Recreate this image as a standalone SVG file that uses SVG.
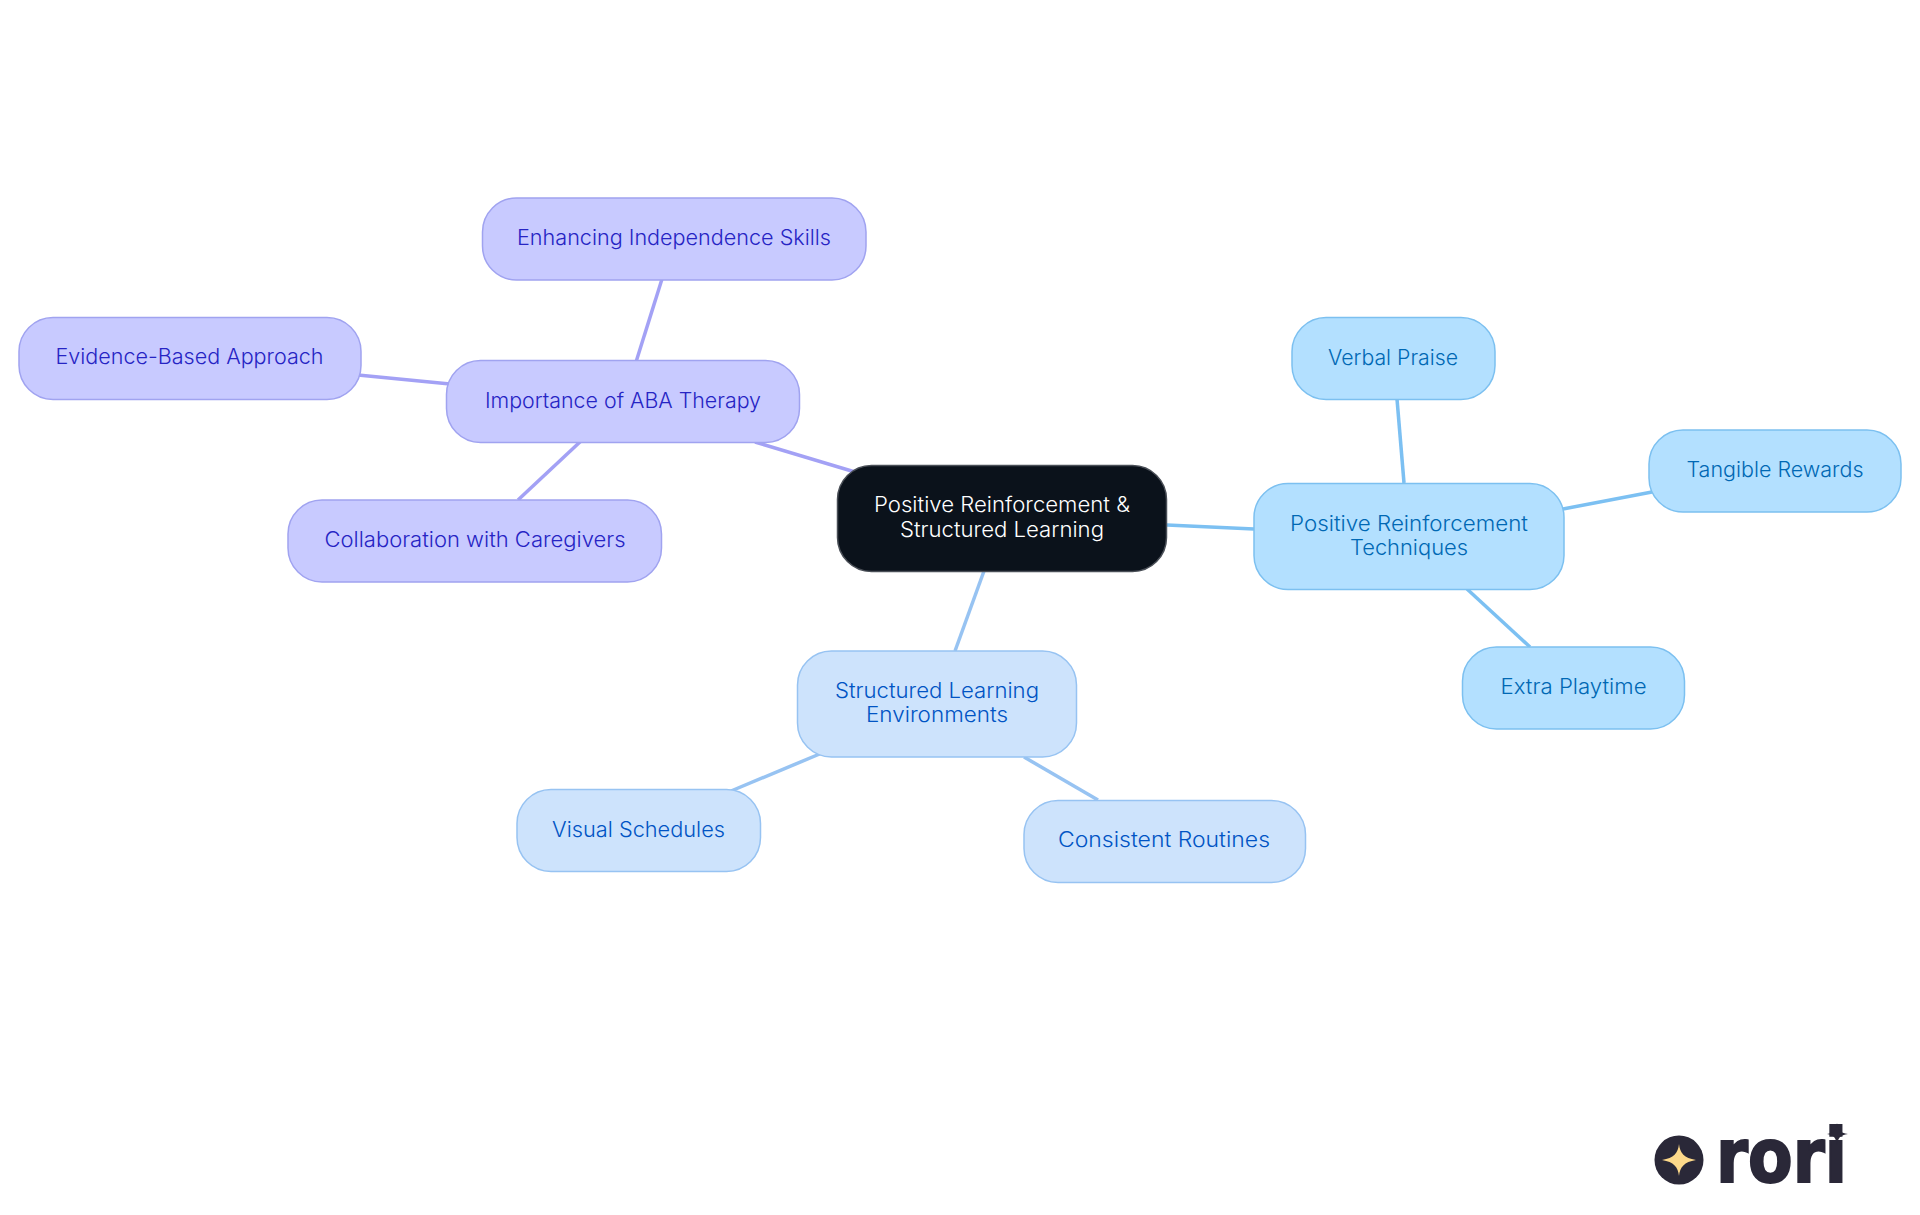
<svg xmlns="http://www.w3.org/2000/svg" width="1920" height="1215" viewBox="0 0 1920 1215">
<style>
text{font-family:"Inter","Noto Sans","Liberation Sans",sans-serif;font-size:21px;font-weight:300;text-anchor:middle}
.c{fill:#0b121b;stroke:#4a4f57;stroke-width:1.5}
.c~text{fill:#fff}
.p rect{fill:#c8caff;stroke:#a0a3f0;stroke-width:1.5}
.p text{fill:#2624c4}
.l rect{fill:#b3e0ff;stroke:#7cc0f0;stroke-width:1.5}
.l text{fill:#0068b4}
.m rect{fill:#cde3fc;stroke:#97c3f2;stroke-width:1.5}
.m text{fill:#0054c4}
#connectors line{stroke-width:3.5;fill:none}
.lp{stroke:#a3a1f5}.ll{stroke:#7cc0f2}.lm{stroke:#97c3f2}
#logo .d{fill:#2a2838}
#logo text{font-family:"DejaVu Sans",sans-serif;font-weight:700;font-size:74px;fill:#2a2838;stroke:#2a2838;stroke-width:2;text-anchor:start}
</style>
<rect width="1920" height="1215" fill="#fff"/>
<g id="connectors">
<line class="lp" x1="755" y1="442" x2="855" y2="472"/>
<line class="lp" x1="636" y1="362" x2="662" y2="279"/>
<line class="lp" x1="358" y1="375" x2="450" y2="384"/>
<line class="lp" x1="581" y1="441" x2="518" y2="500"/>
<line class="lm" x1="984" y1="571" x2="955" y2="651"/>
<line class="lm" x1="822" y1="753" x2="731" y2="791"/>
<line class="lm" x1="1024" y1="757" x2="1098" y2="800"/>
<line class="ll" x1="1167" y1="525" x2="1254" y2="529"/>
<line class="ll" x1="1404" y1="483" x2="1397" y2="399"/>
<line class="ll" x1="1563" y1="509" x2="1652" y2="492"/>
<line class="ll" x1="1467" y1="589" x2="1530" y2="647"/>
</g>
<g id="root"><rect class="c" x="837.5" y="465.5" width="329" height="106" rx="34"/><text x="1002" y="512" textLength="256" lengthAdjust="spacingAndGlyphs">Positive Reinforcement &amp;</text><text x="1002" y="537" textLength="204" lengthAdjust="spacingAndGlyphs">Structured Learning</text></g>
<g id="aba" class="p"><rect x="446.5" y="360.5" width="353" height="82" rx="34"/><text x="623" y="408" textLength="276" lengthAdjust="spacingAndGlyphs">Importance of ABA Therapy</text></g>
<g id="enhancing" class="p"><rect x="482.5" y="198" width="383.500" height="82" rx="34"/><text x="674" y="245" textLength="314" lengthAdjust="spacingAndGlyphs">Enhancing Independence Skills</text></g>
<g id="evidence" class="p"><rect x="19" y="317.500" width="342" height="82" rx="34"/><text x="189.500" y="364" textLength="268" lengthAdjust="spacingAndGlyphs">Evidence-Based Approach</text></g>
<g id="collaboration" class="p"><rect x="288" y="500" width="373.500" height="82" rx="34"/><text x="475" y="547" textLength="301" lengthAdjust="spacingAndGlyphs">Collaboration with Caregivers</text></g>
<g id="structured" class="m"><rect x="797.5" y="651" width="279" height="106" rx="34"/><text x="937" y="698" textLength="204" lengthAdjust="spacingAndGlyphs">Structured Learning</text><text x="937" y="722" textLength="142" lengthAdjust="spacingAndGlyphs">Environments</text></g>
<g id="visual" class="m"><rect x="517" y="789.500" width="243.500" height="82" rx="34"/><text x="638.500" y="837" textLength="173" lengthAdjust="spacingAndGlyphs">Visual Schedules</text></g>
<g id="consistent" class="m"><rect x="1024" y="800.500" width="281.500" height="82" rx="34"/><text x="1164" y="847" textLength="212" lengthAdjust="spacingAndGlyphs">Consistent Routines</text></g>
<g id="techniques" class="l"><rect x="1254" y="483.500" width="310" height="106" rx="34"/><text x="1409" y="531" textLength="238" lengthAdjust="spacingAndGlyphs">Positive Reinforcement</text><text x="1409" y="555" textLength="118" lengthAdjust="spacingAndGlyphs">Techniques</text></g>
<g id="verbal" class="l"><rect x="1292" y="317.500" width="203" height="82" rx="34"/><text x="1393" y="365" textLength="130" lengthAdjust="spacingAndGlyphs">Verbal Praise</text></g>
<g id="tangible" class="l"><rect x="1649" y="430" width="252" height="82" rx="34"/><text x="1775" y="477" textLength="177" lengthAdjust="spacingAndGlyphs">Tangible Rewards</text></g>
<g id="playtime" class="l"><rect x="1462.500" y="647" width="222" height="82" rx="34"/><text x="1573.500" y="694" textLength="146" lengthAdjust="spacingAndGlyphs">Extra Playtime</text></g>
<g id="logo">
<circle class="d" cx="1679" cy="1160" r="24.500"/>
<path fill="#fdd98a" d="M1679 1144C1680 1153 1684 1158 1696 1160C1684 1162 1680 1167 1679 1176C1678 1167 1674 1162 1662 1160C1674 1158 1678 1153 1679 1144Z"/>
<text x="1716" y="1182" textLength="131" lengthAdjust="spacingAndGlyphs">rori</text>
<path class="d" d="M1837 1123C1838 1130 1840 1133 1848 1134C1840 1135 1838 1138 1837 1145C1836 1138 1834 1135 1827 1134C1834 1133 1836 1130 1837 1123Z"/>
</g>
</svg>
